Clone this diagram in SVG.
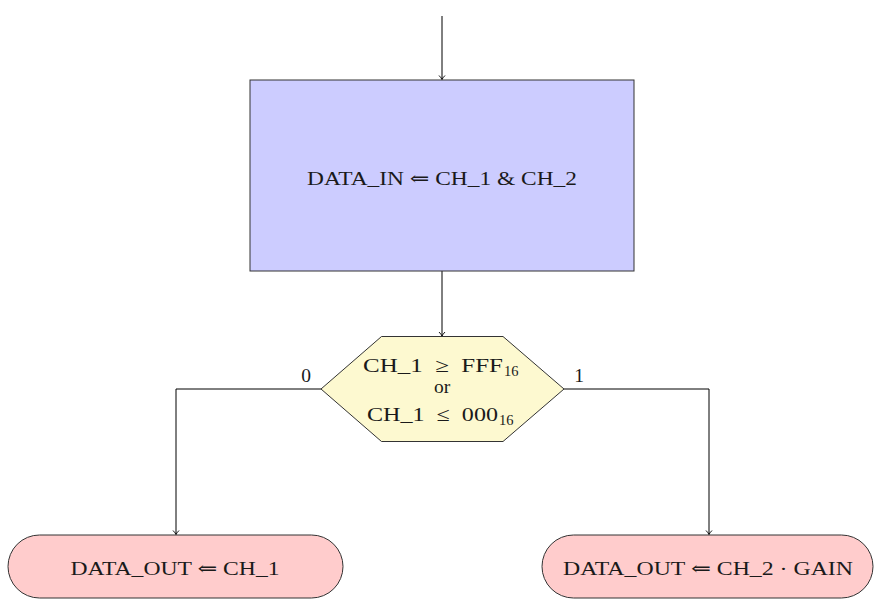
<svg xmlns="http://www.w3.org/2000/svg" width="881" height="607" viewBox="0 0 881 607">
  <defs>
    <marker id="arr" viewBox="-5 -4 6 8" refX="0" refY="0" markerWidth="6" markerHeight="8" markerUnits="userSpaceOnUse" orient="auto">
      <path d="M-4,-3 Q-1.5,-0.6 0,0 Q-1.5,0.6 -4,3" fill="none" stroke="#000" stroke-width="0.9"/>
    </marker>
  </defs>
  <style>
    .lbl { font-family: "Liberation Serif", "DejaVu Serif", serif; font-size: 19.5px; fill: #1a1a1a; text-anchor: middle; }
    .st { text-anchor: start; }
    .sub { font-size: 14.5px; }
    .edge { fill: none; stroke: #000; stroke-width: 1; }
    .node { stroke: #333; stroke-width: 1; }
  </style>
  <rect width="881" height="607" fill="#fff"/>

  <g id="connectors">
    <line class="edge" x1="442" y1="16" x2="442" y2="79.5" marker-end="url(#arr)"/>
    <line class="edge" x1="442" y1="271" x2="442" y2="336" marker-end="url(#arr)"/>
    <polyline class="edge" points="321,389 176,389 176,534.5" marker-end="url(#arr)"/>
    <polyline class="edge" points="564,389 709,389 709,534.5" marker-end="url(#arr)"/>
    <text class="lbl" x="306" y="382">0</text>
    <text class="lbl" x="579" y="382">1</text>
  </g>

  <g id="load">
    <rect class="node" x="250" y="80" width="384" height="191" fill="#ccccff"/>
    <text class="lbl" x="442" y="185" textLength="270" lengthAdjust="spacingAndGlyphs">DATA_IN ⇐ CH_1 &amp; CH_2</text>
  </g>

  <g id="check">
    <polygon class="node" points="381.5,336.5 503,336.5 564,389 503,441.5 381.5,441.5 321,389" fill="#fdf9d0"/>
    <text class="lbl st" x="363" y="372" textLength="140" lengthAdjust="spacingAndGlyphs" xml:space="preserve">CH_1  ≥  FFF</text>
    <text class="lbl st sub" x="504" y="376">16</text>
    <text class="lbl" x="442" y="393" font-size="17">or</text>
    <text class="lbl st" x="367" y="421" textLength="131" lengthAdjust="spacingAndGlyphs" xml:space="preserve">CH_1  ≤  000</text>
    <text class="lbl st sub" x="499" y="425">16</text>
  </g>

  <g id="out-direct">
    <rect class="node" x="8" y="535" width="335" height="63" rx="31.5" ry="31.5" fill="#ffcccc"/>
    <text class="lbl" x="175" y="575" textLength="209" lengthAdjust="spacingAndGlyphs">DATA_OUT ⇐ CH_1</text>
  </g>

  <g id="out-gain">
    <rect class="node" x="542" y="535" width="331" height="63" rx="31.5" ry="31.5" fill="#ffcccc"/>
    <text class="lbl" x="708" y="575" textLength="290" lengthAdjust="spacingAndGlyphs">DATA_OUT ⇐ CH_2 · GAIN</text>
  </g>
</svg>
